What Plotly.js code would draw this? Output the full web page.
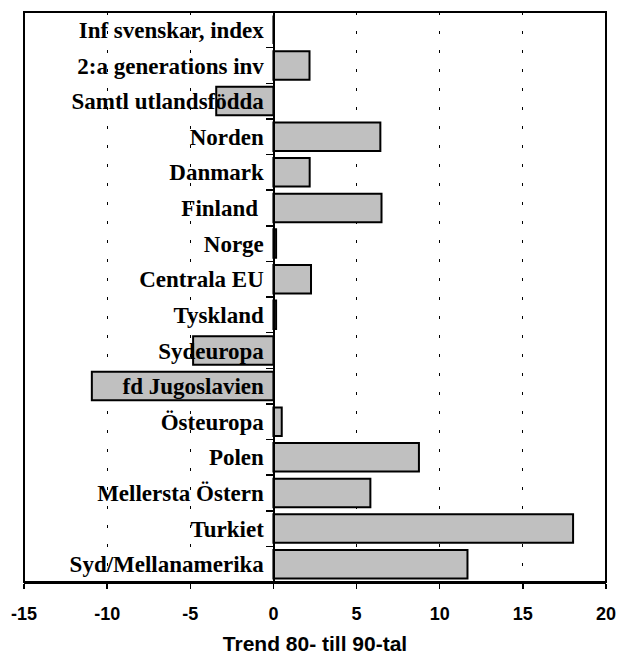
<!DOCTYPE html>
<html>
<head>
<meta charset="utf-8">
<script src="https://cdn.plot.ly/plotly-3.0.1.min.js"></script>
<style>
html,body{margin:0;padding:0;background:#fff;}
#chart{width:629px;height:655px;}
</style>
</head>
<body>
<div id="chart"></div>
<script>
var categories = [
  "Inf svenskar, index",
  "2:a generations inv",
  "Samtl utlandsfödda",
  "Norden",
  "Danmark",
  "Finland ",
  "Norge",
  "Centrala EU",
  "Tyskland",
  "Sydeuropa",
  "fd Jugoslavien",
  "Östeuropa",
  "Polen",
  "Mellersta Östern",
  "Turkiet",
  "Syd/Mellanamerika"
];
var trendValues = [0, 2.17, -3.44, 6.43, 2.18, 6.5, 0.16, 2.26, 0.16, -4.83, -10.92, 0.5, 8.75, 5.83, 18.02, 11.67];
var xTickValues = [-15, -10, -5, 0, 5, 10, 15, 20];
var xTitle = "Trend 80- till 90-tal";
var xRange = [-15, 20];

var trace = {
  type: "bar",
  orientation: "h",
  y: categories,
  x: trendValues,
  marker: {color: "#c0c0c0", line: {color: "#000", width: 2}},
  hoverinfo: "x+y"
};

var zeroPos = (0 - xRange[0]) / (xRange[1] - xRange[0]);

var layout = {
  width: 629,
  height: 655,
  margin: {l: 24, r: 23, t: 12, b: 73},
  paper_bgcolor: "#fff",
  plot_bgcolor: "#fff",
  showlegend: false,
  bargap: 0.2,
  xaxis: {
    range: xRange,
    tickvals: xTickValues,
    ticktext: xTickValues.map(String),
    ticks: "outside",
    ticklen: 5,
    tickwidth: 1.5,
    tickcolor: "#000",
    ticklabelstandoff: 9,
    showline: true,
    linecolor: "#000",
    linewidth: 2,
    showgrid: true,
    gridcolor: "#000",
    gridwidth: 1,
    griddash: "3px,16px",
    zeroline: false,
    tickfont: {family: "Liberation Sans, Arial, sans-serif", size: 18, weight: "bold", color: "#000"},
    title: {text: xTitle, font: {family: "Liberation Sans, Arial, sans-serif", size: 21, weight: "bold", color: "#000"}, standoff: 24},
    automargin: false,
    fixedrange: true
  },
  yaxis: {
    autorange: "reversed",
    type: "category",
    anchor: "free",
    position: zeroPos,
    showline: true,
    linecolor: "#000",
    linewidth: 1.5,
    ticks: "outside",
    tickson: "boundaries",
    ticklen: 7,
    tickwidth: 1.5,
    tickcolor: "#000",
    ticklabelstandoff: 5,
    showgrid: false,
    zeroline: false,
    tickfont: {family: "Liberation Serif, Times New Roman, serif", size: 23, weight: "bold", color: "#000"},
    automargin: false,
    fixedrange: true
  },
  shapes: [{
    type: "rect", xref: "paper", yref: "paper", x0: 0, x1: 1, y0: 0, y1: 1,
    line: {color: "#000", width: 2}, fillcolor: "rgba(0,0,0,0)", layer: "above"
  }]
};

Plotly.newPlot("chart", [trace], layout, {displayModeBar: false, staticPlot: true});
</script>
</body>
</html>
